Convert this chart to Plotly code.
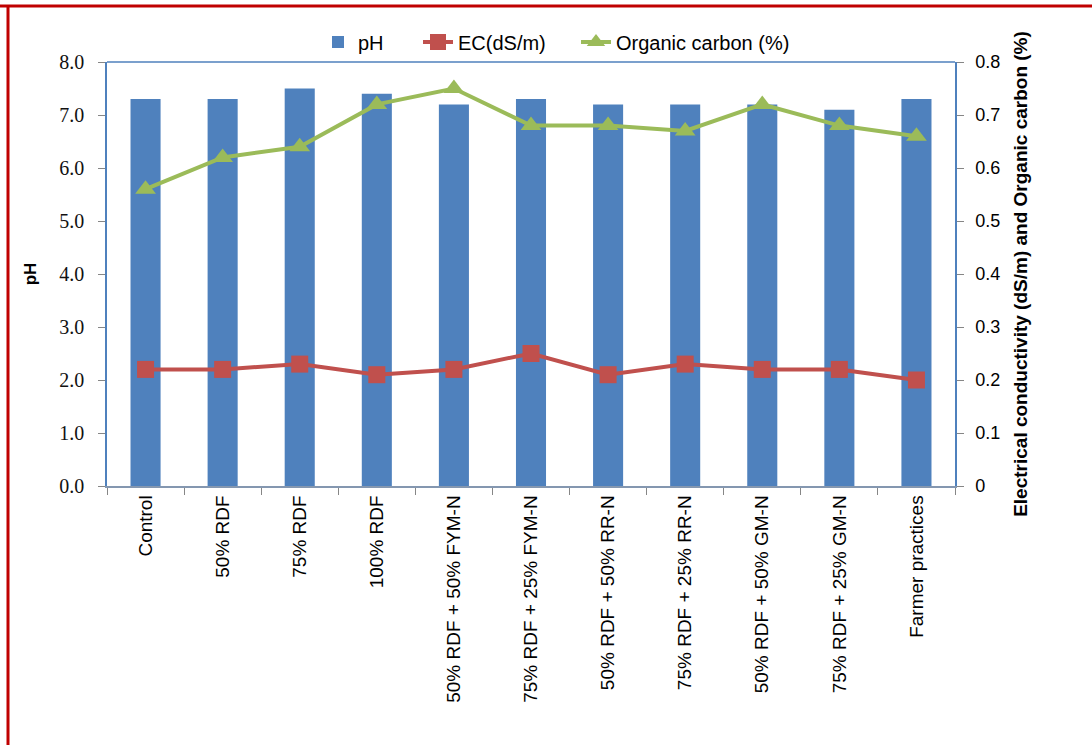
import plotly.graph_objects as go

categories = ["Control", "50% RDF", "75% RDF", "100% RDF", "50% RDF + 50% FYM-N",
              "75% RDF + 25% FYM-N", "50% RDF + 50% RR-N", "75% RDF + 25% RR-N",
              "50% RDF + 50% GM-N", "75% RDF + 25% GM-N", "Farmer practices"]
ph = [7.3, 7.3, 7.5, 7.4, 7.2, 7.3, 7.2, 7.2, 7.2, 7.1, 7.3]
ec = [0.22, 0.22, 0.23, 0.21, 0.22, 0.25, 0.21, 0.23, 0.22, 0.22, 0.20]
oc = [0.56, 0.62, 0.64, 0.72, 0.75, 0.68, 0.68, 0.67, 0.72, 0.68, 0.66]
left_ticks = [0, 1, 2, 3, 4, 5, 6, 7, 8]
right_ticks = [0, 0.1, 0.2, 0.3, 0.4, 0.5, 0.6, 0.7, 0.8]

FONT = "Liberation Sans"
SERIF = "Liberation Serif"
PW, PH_ = 848, 424
fig = go.Figure()
fig.add_trace(go.Bar(x=categories, y=ph, name="pH", legend="legend",
                     marker=dict(color="#4F81BD", line=dict(width=0))))
fig.add_trace(go.Scatter(x=categories, y=ec, name="EC(dS/m)", yaxis="y2", mode="lines+markers",
                         legend="legend2",
                         line=dict(color="#C0504D", width=4),
                         marker=dict(symbol="square", size=17, color="#C0504D")))
fig.add_trace(go.Scatter(x=categories, y=oc, name="Organic carbon (%)", yaxis="y2", mode="lines+markers",
                         legend="legend3",
                         line=dict(color="#9BBB59", width=4),
                         marker=dict(symbol="triangle-up", size=18, color="#9BBB59")))

def leg(px):
    return dict(x=(px - 107) / PW, xanchor="left", y=1 + 20 / PH_, yanchor="middle",
                bgcolor="rgba(0,0,0,0)", font=dict(family=FONT, size=20), borderwidth=0)

fig.update_layout(
    width=1092, height=745,
    margin=dict(l=107, r=137, t=62, b=259, autoexpand=False),
    paper_bgcolor="white", plot_bgcolor="white",
    bargap=0.61,
    font=dict(family=FONT, size=18, color="black"),
    showlegend=True,
    legend=leg(318), legend2=leg(418), legend3=leg(576),
    xaxis=dict(type="category", range=[-0.5, 10.5], tickangle=-90, showline=True, linecolor="#8497B0",
               linewidth=1.5, ticks="outside", tickson="boundaries", ticklen=7, tickcolor="#868686",
               tickfont=dict(family=FONT, size=19), showgrid=False),
    yaxis=dict(range=[0, 8], tickvals=left_ticks, ticktext=[f"{v:.1f}" for v in left_ticks],
               showline=True, linecolor="#4F81BD", linewidth=1.5, ticks="outside", ticklen=7,
               tickcolor="#868686", showgrid=False, zeroline=False, ticklabelstandoff=10,
               title=dict(text="<b>pH</b>", font=dict(family=FONT, size=17), standoff=18),
               tickfont=dict(family=SERIF, size=20, color="#111111")),
    yaxis2=dict(range=[0, 0.8], tickvals=right_ticks, ticktext=["0" if v == 0 else f"{v:.1f}" for v in right_ticks],
                overlaying="y", side="right", showline=True, linecolor="#4F81BD", linewidth=1.5,
                ticks="outside", ticklen=7, tickcolor="#868686", showgrid=False, zeroline=False,
                ticklabelstandoff=8,
                title=dict(text="<b>Electrical conductivity (dS/m) and Organic carbon (%)</b>",
                           font=dict(family=FONT, size=19), standoff=14),
                tickfont=dict(family=FONT, size=18)),
    shapes=[
        dict(type="line", xref="paper", yref="paper", x0=0, x1=1, y0=1, y1=1,
             line=dict(color="#4F81BD", width=1.5)),
        dict(type="line", xref="paper", yref="paper", x0=-107/PW, x1=(1092-107)/PW,
             y0=1 + 56/PH_, y1=1 + 56/PH_, line=dict(color="#C00000", width=3)),
        dict(type="line", xref="paper", yref="paper", x0=-99/PW, x1=-99/PW,
             y0=1 + 56/PH_, y1=-259/PH_, line=dict(color="#C00000", width=3)),
    ],
)
fig.write_html("out.html")
